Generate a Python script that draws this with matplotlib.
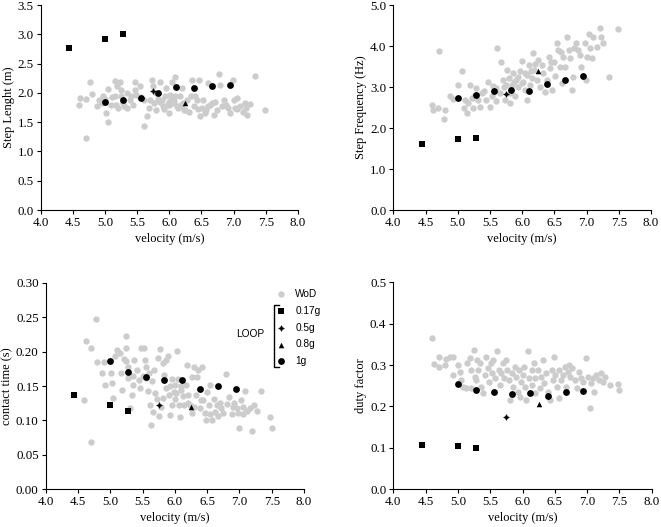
import matplotlib
matplotlib.use("Agg")
import matplotlib.pyplot as plt
from matplotlib.lines import Line2D

# LOOP (different gravity levels), velocities in m/s
v_017 = [4.44, 5.00, 5.28]
v_05 = [5.75]
v_08 = [6.25]
v_1g = [5.00, 5.28, 5.56, 5.83, 6.11, 6.39, 6.67, 6.94]

len_017 = [2.77, 2.92, 3.01]
len_05 = [2.04]
len_08 = [1.83]
len_1g = [1.84, 1.88, 1.92, 2.00, 2.10, 2.08, 2.12, 2.13]

freq_017 = [1.60, 1.72, 1.76]
freq_05 = [2.82]
freq_08 = [3.40]
freq_1g = [2.72, 2.81, 2.90, 2.92, 2.91, 3.08, 3.16, 3.27]

ct_017 = [0.137, 0.122, 0.114]
ct_05 = [0.123]
ct_08 = [0.120]
ct_1g = [0.187, 0.171, 0.163, 0.159, 0.159, 0.146, 0.150, 0.146]

df_017 = [0.108, 0.104, 0.099]
df_05 = [0.174]
df_08 = [0.206]
df_1g = [0.254, 0.240, 0.236, 0.230, 0.232, 0.225, 0.236, 0.238]

# WoD (without device) runs
wod_len_v = [4.77, 4.61, 4.59, 4.71, 4.71, 4.79, 4.87, 4.90, 4.97, 5.01, 5.05, 5.05, 5.11,
             5.16, 5.18, 5.16, 5.17, 5.21, 5.24, 5.25, 5.25, 5.30, 5.34, 5.39, 5.44, 5.47,
             5.46, 5.49, 5.54, 5.60, 5.61, 5.65, 5.68, 5.70, 5.73, 5.75, 5.76, 5.80, 5.80,
             5.85, 5.88, 5.90, 5.94, 5.95, 5.99, 5.99, 6.01, 6.04, 6.06, 6.09, 6.09, 6.12,
             6.17, 6.20, 6.21, 6.25, 6.27, 6.30, 6.34, 6.35, 6.38, 6.43, 6.47, 6.48, 6.51,
             6.53, 6.57, 6.61, 6.64, 6.69, 6.71, 6.74, 6.78, 6.79, 6.82, 6.85, 6.89, 6.95,
             6.99, 7.00, 7.02, 7.06, 7.10, 7.14, 7.18, 7.21, 7.25, 7.34, 7.49,
             5.92, 5.97, 6.03, 6.08, 6.14, 5.86, 5.82, 6.00, 6.18, 6.23, 6.40, 6.45, 6.55,
             6.60, 6.66, 6.92, 7.05, 7.20, 5.55, 5.40, 5.28, 5.35, 5.10, 4.95, 5.00]
wod_len = [2.18, 1.91, 1.80, 1.90, 1.23, 1.98, 1.78, 1.87, 1.94, 1.65, 2.07, 1.51, 1.93,
           2.20, 2.11, 1.94, 1.80, 1.74, 2.18, 2.05, 1.94, 1.77, 1.99, 1.88, 1.80, 2.19,
           2.05, 1.97, 2.11, 1.88, 1.44, 1.60, 1.74, 1.88, 2.22, 2.11, 1.82, 1.99, 1.71,
           2.19, 1.88, 1.78, 1.94, 2.08, 1.65, 1.85, 1.97, 2.19, 1.82, 2.27, 1.94, 1.77,
           1.94, 2.08, 1.82, 1.71, 1.88, 1.68, 1.94, 2.22, 1.78, 1.88, 2.22, 1.60, 1.74,
           1.88, 1.71, 2.16, 1.80, 1.63, 1.85, 1.71, 2.32, 2.14, 1.77, 1.88, 1.80, 1.65,
           2.22, 1.88, 1.74, 1.91, 1.77, 1.68, 1.82, 1.63, 1.81, 2.28, 1.71,
           1.72, 1.79, 1.90, 1.86, 1.75, 1.84, 1.90, 1.80, 1.80, 1.70, 1.95, 1.72, 1.65,
           1.78, 1.83, 1.75, 1.72, 1.75, 1.93, 1.95, 1.83, 1.75, 1.80, 1.82, 1.90]

wod_freq_v = [4.60, 4.62, 4.70, 4.71, 4.78, 4.80, 4.88, 4.93, 5.01, 5.06, 5.09, 5.11, 5.14,
              5.16, 5.19, 5.22, 5.24, 5.27, 5.29, 5.32, 5.35, 5.37, 5.41, 5.44, 5.47, 5.50,
              5.53, 5.55, 5.60, 5.61, 5.66, 5.67, 5.70, 5.71, 5.73, 5.76, 5.79, 5.81, 5.84,
              5.86, 5.89, 5.91, 5.94, 5.97, 5.99, 6.02, 6.04, 6.07, 6.10, 6.12, 6.15, 6.17,
              6.18, 6.23, 6.25, 6.28, 6.30, 6.33, 6.35, 6.38, 6.41, 6.43, 6.47, 6.49, 6.51,
              6.54, 6.56, 6.59, 6.61, 6.64, 6.66, 6.70, 6.72, 6.74, 6.78, 6.79, 6.84, 6.86,
              6.90, 6.92, 6.98, 6.99, 7.00, 7.03, 7.05, 7.08, 7.10, 7.16, 7.21, 7.22, 7.26,
              7.34, 7.48, 5.81, 6.07, 5.60, 5.93, 6.00, 6.05, 5.88, 6.13, 6.20, 5.75, 6.45,
              6.60, 6.80]
wod_freq = [2.56, 2.44, 2.48, 3.88, 2.22, 2.44, 2.77, 2.70, 3.05, 3.39, 2.48, 2.69, 2.36,
            2.61, 3.05, 2.73, 2.48, 2.81, 2.97, 2.69, 2.52, 2.85, 2.91, 2.69, 3.13, 2.52,
            2.77, 3.03, 2.65, 3.94, 2.85, 3.60, 3.17, 3.01, 2.69, 3.42, 3.21, 2.85, 3.05,
            3.33, 2.77, 3.17, 3.01, 3.38, 3.64, 3.13, 2.93, 3.29, 3.54, 3.05, 3.21, 3.82,
            3.42, 3.17, 3.66, 3.01, 3.54, 3.33, 2.89, 3.17, 3.74, 3.46, 2.93, 3.62, 3.27,
            4.07, 3.90, 3.50, 3.09, 3.74, 3.50, 4.21, 3.90, 3.70, 2.93, 3.25, 4.07, 3.90,
            3.78, 3.50, 4.07, 3.17, 3.74, 4.29, 3.94, 3.70, 4.21, 3.98, 4.43, 4.21, 4.07,
            3.25, 4.41, 2.61, 2.69, 2.97, 3.25, 3.10, 3.35, 3.12, 3.40, 3.55, 3.05, 3.60,
            3.85, 3.95]

wod_ct_v = [4.62, 4.71, 4.78, 4.59, 4.71, 4.80, 4.88, 4.91, 4.92, 5.01, 5.02, 5.04, 5.07,
            5.11, 5.15, 5.16, 5.18, 5.22, 5.24, 5.25, 5.25, 5.27, 5.28, 5.31, 5.33, 5.36,
            5.37, 5.41, 5.44, 5.46, 5.48, 5.53, 5.54, 5.55, 5.56, 5.58, 5.60, 5.62, 5.63,
            5.64, 5.66, 5.68, 5.70, 5.73, 5.74, 5.75, 5.77, 5.78, 5.81, 5.82, 5.83, 5.86,
            5.87, 5.89, 5.91, 5.93, 5.95, 5.96, 5.98, 6.00, 6.01, 6.04, 6.05, 6.06, 6.08,
            6.10, 6.12, 6.14, 6.17, 6.19, 6.21, 6.23, 6.26, 6.27, 6.29, 6.32, 6.34, 6.36,
            6.39, 6.42, 6.44, 6.47, 6.48, 6.50, 6.53, 6.55, 6.57, 6.60, 6.62, 6.65, 6.67,
            6.71, 6.75, 6.79, 6.80, 6.84, 6.88, 6.91, 6.96, 6.98, 7.00, 7.02, 7.06, 7.09,
            7.11, 7.16, 7.20, 7.22, 7.27, 7.34, 7.47, 7.50, 6.10, 6.02, 5.92, 6.20, 6.30,
            6.40, 6.55, 6.70, 6.90, 7.05, 5.50, 5.35]
wod_ct = [0.215, 0.205, 0.247, 0.130, 0.068, 0.185, 0.169, 0.185, 0.151, 0.169, 0.155,
          0.133, 0.193, 0.202, 0.198, 0.169, 0.144, 0.189, 0.222, 0.205, 0.187, 0.178,
          0.161, 0.118, 0.137, 0.152, 0.188, 0.174, 0.159, 0.147, 0.205, 0.205, 0.188,
          0.178, 0.161, 0.143, 0.169, 0.123, 0.094, 0.157, 0.113, 0.174, 0.140, 0.131,
          0.190, 0.106, 0.204, 0.120, 0.183, 0.133, 0.166, 0.188, 0.147, 0.193, 0.137,
          0.108, 0.123, 0.160, 0.142, 0.151, 0.131, 0.201, 0.160, 0.123, 0.105, 0.144,
          0.135, 0.122, 0.151, 0.180, 0.137, 0.122, 0.163, 0.111, 0.177, 0.137, 0.163,
          0.174, 0.118, 0.177, 0.130, 0.111, 0.101, 0.142, 0.122, 0.151, 0.101, 0.131,
          0.113, 0.122, 0.106, 0.118, 0.111, 0.168, 0.124, 0.134, 0.109, 0.125, 0.118,
          0.111, 0.089, 0.130, 0.120, 0.143, 0.114, 0.118, 0.084, 0.122, 0.114, 0.143,
          0.105, 0.089, 0.150, 0.140, 0.150, 0.125, 0.120, 0.130, 0.110, 0.125, 0.120,
          0.110, 0.165, 0.165]

wod_df_v = [4.60, 4.63, 4.71, 4.71, 4.80, 4.82, 4.87, 4.93, 4.93, 5.00, 5.03, 5.05, 5.08,
            5.12, 5.14, 5.18, 5.20, 5.21, 5.25, 5.26, 5.28, 5.29, 5.31, 5.34, 5.35, 5.39,
            5.42, 5.44, 5.46, 5.48, 5.51, 5.53, 5.55, 5.58, 5.61, 5.63, 5.65, 5.67, 5.70,
            5.72, 5.75, 5.76, 5.79, 5.80, 5.83, 5.85, 5.88, 5.90, 5.93, 5.95, 5.97, 6.00,
            6.02, 6.04, 6.06, 6.08, 6.10, 6.14, 6.15, 6.17, 6.19, 6.20, 6.24, 6.27, 6.29,
            6.32, 6.33, 6.36, 6.40, 6.42, 6.45, 6.47, 6.49, 6.51, 6.54, 6.56, 6.57, 6.60,
            6.63, 6.65, 6.68, 6.70, 6.72, 6.74, 6.77, 6.81, 6.84, 6.87, 6.90, 6.94, 6.99,
            7.01, 7.04, 7.06, 7.09, 7.11, 7.14, 7.18, 7.22, 7.24, 7.27, 7.35, 7.48, 7.50,
            5.96]
wod_df = [0.365, 0.303, 0.319, 0.296, 0.300, 0.314, 0.320, 0.320, 0.275, 0.300, 0.284,
          0.264, 0.248, 0.244, 0.304, 0.316, 0.288, 0.244, 0.337, 0.272, 0.264, 0.312,
          0.288, 0.304, 0.248, 0.232, 0.276, 0.320, 0.292, 0.260, 0.304, 0.280, 0.312,
          0.268, 0.333, 0.288, 0.252, 0.280, 0.304, 0.268, 0.312, 0.288, 0.264, 0.216,
          0.280, 0.248, 0.296, 0.272, 0.236, 0.288, 0.260, 0.276, 0.296, 0.248, 0.216,
          0.333, 0.268, 0.288, 0.252, 0.304, 0.232, 0.268, 0.288, 0.244, 0.272, 0.312,
          0.256, 0.280, 0.236, 0.216, 0.288, 0.264, 0.320, 0.276, 0.248, 0.220, 0.288,
          0.264, 0.276, 0.296, 0.248, 0.284, 0.300, 0.272, 0.292, 0.264, 0.244, 0.284,
          0.268, 0.260, 0.318, 0.272, 0.196, 0.256, 0.268, 0.236, 0.276, 0.264, 0.280,
          0.260, 0.272, 0.252, 0.254, 0.240, 0.224]

x_ticks = [4.0, 4.5, 5.0, 5.5, 6.0, 6.5, 7.0, 7.5, 8.0]

plt.rcParams['font.family'] = 'Liberation Serif'
plt.rcParams['font.size'] = 9

grey = '#cccccc'
star4 = (4, 1, 0)

fig = plt.figure(figsize=(6.61, 5.27), dpi=100)
ax1 = fig.add_axes([0.0616, 0.6015, 0.389, 0.389])
ax2 = fig.add_axes([0.595, 0.6015, 0.390, 0.389])
ax3 = fig.add_axes([0.069, 0.0715, 0.391, 0.392])
ax4 = fig.add_axes([0.595, 0.0715, 0.391, 0.393])

panels = [
    (ax1, wod_len_v, wod_len, [len_017, len_05, len_08, len_1g], 'Step Lenght (m)',
     [0.0, 0.5, 1.0, 1.5, 2.0, 2.5, 3.0, 3.5], '%.1f'),
    (ax2, wod_freq_v, wod_freq, [freq_017, freq_05, freq_08, freq_1g], 'Step Frequency (Hz)',
     [0.0, 1.0, 2.0, 3.0, 4.0, 5.0], '%.1f'),
    (ax3, wod_ct_v, wod_ct, [ct_017, ct_05, ct_08, ct_1g], 'contact time (s)',
     [0.0, 0.05, 0.10, 0.15, 0.20, 0.25, 0.30], '%.2f'),
    (ax4, wod_df_v, wod_df, [df_017, df_05, df_08, df_1g], 'duty factor',
     [0.0, 0.1, 0.2, 0.3, 0.4, 0.5], '%.1f'),
]

for ax, wv, wy, loop, ylab, yt, fmt in panels:
    h_wod = ax.scatter(wv, wy, s=21, c=grey, linewidths=0, label='WoD', zorder=2)
    h17 = ax.scatter(v_017, loop[0], s=15, marker='s', c='black', linewidths=0, label='0.17g', zorder=3)
    h05 = ax.scatter(v_05, loop[1], s=18, marker=star4, c='black', linewidths=0.3,
                     edgecolors='black', label='0.5g', zorder=3)
    h08 = ax.scatter(v_08, loop[2], s=16, marker='^', c='black', linewidths=0, label='0.8g', zorder=3)
    h1 = ax.scatter(v_1g, loop[3], s=24, marker='o', c='black', linewidths=0, label='1g', zorder=3)
    ax.set_xlim(4.0, 8.0)
    ax.set_ylim(yt[0], yt[-1])
    ax.set_xticks(x_ticks)
    ax.set_xticklabels(['%.1f' % t for t in x_ticks])
    ax.set_yticks(yt)
    ax.set_yticklabels([fmt % t for t in yt])
    ax.spines['top'].set_visible(False)
    ax.spines['right'].set_visible(False)
    ax.tick_params(direction='out', length=3, width=0.8, pad=2, labelsize=9.4)
    ax.set_xlabel('velocity (m/s)', labelpad=3)
    ax.set_ylabel(ylab, labelpad=2)
    if ax is ax3:
        handles = [h_wod, h17, h05, h08, h1]

leg_font = {'family': 'Liberation Sans', 'size': 7.3}
leg1 = ax3.legend(handles=handles[:1], loc='center left', bbox_to_anchor=(276 / 661, 1 - 294 / 527),
                  bbox_transform=fig.transFigure, frameon=False, prop=leg_font, borderpad=0,
                  handlelength=1.0, handletextpad=0.9, borderaxespad=0)
ax3.add_artist(leg1)
ax3.legend(handles=handles[1:], loc='center left', bbox_to_anchor=(276 / 661, 1 - 336 / 527),
           bbox_transform=fig.transFigure, frameon=False, prop=leg_font, borderpad=0,
           handlelength=1.0, handletextpad=0.9, labelspacing=0.65, borderaxespad=0)

# bracket grouping the LOOP entries
bx, btop, bbot = 274 / 661, 1 - 305 / 527, 1 - 367 / 527
fig.lines.append(Line2D([bx + 5 / 661, bx, bx, bx + 5 / 661], [btop, btop, bbot, bbot],
                        transform=fig.transFigure, color='black', lw=1.0))
fig.text(264 / 661, 1 - 334 / 527, 'LOOP', ha='right', va='center', **leg_font)

fig.savefig('out.png', dpi=100)
